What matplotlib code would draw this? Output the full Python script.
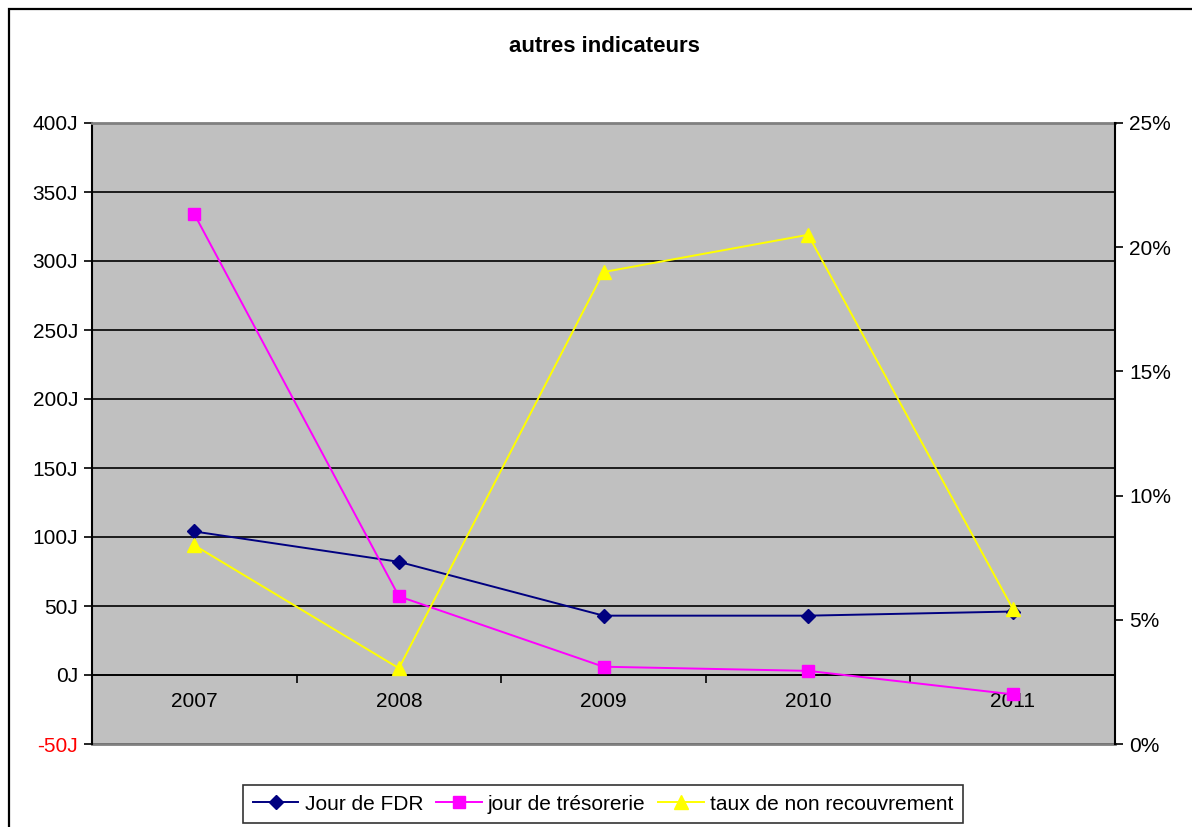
import matplotlib.pyplot as plt
from matplotlib.patches import Rectangle
from matplotlib.lines import Line2D
from matplotlib.ticker import FuncFormatter

plt.rcParams['font.family'] = ['Liberation Sans', 'DejaVu Sans']

years = ["2007", "2008", "2009", "2010", "2011"]
jour_fdr = [104, 82, 43, 43, 46]
jour_treso = [334, 57, 6, 3, -14]
taux_non_recouvrement = [8.0, 3.05, 19.0, 20.5, 5.45]

fig = plt.figure(figsize=(11.92, 8.27), dpi=100)
W, H = 1192, 827

# outer chart border
fig.patches.append(Rectangle((9 / W, -0.05), 1.2, 1 - 9 / H + 0.05, transform=fig.transFigure,
                             fill=False, edgecolor='black', linewidth=1.6))

ax = fig.add_axes([92 / W, 1 - 744 / H, (1115 - 92) / W, (744 - 123) / H])
ax.set_facecolor('#c0c0c0')
x = list(range(len(years)))

ax.plot(x, jour_fdr, color='#000080', marker='D', markersize=7, linewidth=1.4, zorder=4)
ax.plot(x, jour_treso, color='#ff00ff', marker='s', markersize=8, linewidth=1.4, zorder=4)

ax.set_xlim(-0.5, len(years) - 0.5)
ax.set_ylim(-50, 400)
ax.set_yticks(range(-50, 401, 50))
ax.set_yticklabels([f"{v}J" for v in range(-50, 401, 50)], fontsize=15)
ax.get_yticklabels()[0].set_color('red')
ax.yaxis.grid(True, color='black', linewidth=1.2)
ax.set_axisbelow(True)
ax.tick_params(axis='y', direction='out', length=6, width=1.2, pad=4)

# category axis crossing at 0
ax.spines['bottom'].set_position(('data', 0))
ax.spines['bottom'].set_linewidth(1.2)
ax.set_xticks([i + 0.5 for i in x[:-1]])
ax.set_xticklabels([])
ax.set_xticks(x, minor=True)
ax.set_xticklabels(years, minor=True, fontsize=15)
ax.tick_params(axis='x', which='major', direction='out', length=6, width=1.2)
ax.tick_params(axis='x', which='minor', length=0, pad=12)
ax.axhline(-50, color='#808080', linewidth=2, clip_on=False)
ax.spines['top'].set_color('#808080')
ax.spines['top'].set_linewidth(2)
ax.spines['left'].set_linewidth(1.5)
ax.spines['right'].set_visible(False)

ax2 = ax.twinx()
ax2.plot(x, [v / 100 for v in taux_non_recouvrement], color='#ffff00', marker='^',
         markersize=10, linewidth=1.4, zorder=4)
ax2.set_ylim(0, 0.25)
ax2.set_yticks([0, 0.05, 0.10, 0.15, 0.20, 0.25])
ax2.yaxis.set_major_formatter(FuncFormatter(lambda v, p: f"{round(v * 100)}%"))
ax2.tick_params(axis='y', direction='out', length=6, width=1.2, labelsize=15, pad=4)
ax2.spines['right'].set_linewidth(1.5)
for s in ['top', 'bottom', 'left']:
    ax2.spines[s].set_visible(False)

fig.text(604 / W, 1 - 47 / H, "autres indicateurs", ha='center', va='center',
         fontsize=16, fontweight='bold')

handles = [
    Line2D([], [], color='#000080', marker='D', markersize=7, linewidth=1.4),
    Line2D([], [], color='#ff00ff', marker='s', markersize=8, linewidth=1.4),
    Line2D([], [], color='#ffff00', marker='^', markersize=10, linewidth=1.4),
]
leg = fig.legend(handles, ["Jour de FDR", "jour de trésorerie", "taux de non recouvrement"],
                 loc='center', bbox_to_anchor=(603 / W, 1 - 804 / H), ncol=3, fontsize=15,
                 frameon=True, fancybox=False, edgecolor='black', handlelength=2.2,
                 handletextpad=0.3, columnspacing=0.6, borderpad=0.45)
leg.get_frame().set_linewidth(1.2)

fig.savefig("out.png", dpi=100)
